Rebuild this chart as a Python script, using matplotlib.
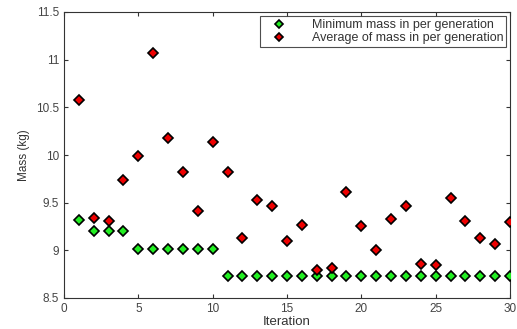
import matplotlib
matplotlib.use("Agg")
import matplotlib.pyplot as plt

plt.rcParams['font.family'] = ['Liberation Sans', 'DejaVu Sans']

iteration = list(range(1, 31))
min_mass = [9.32, 9.20, 9.20, 9.20, 9.01, 9.01, 9.01, 9.01, 9.01, 9.01,
            8.73, 8.73, 8.73, 8.73, 8.73, 8.73, 8.73, 8.73, 8.73, 8.73,
            8.73, 8.73, 8.73, 8.73, 8.73, 8.73, 8.73, 8.73, 8.73, 8.73]
avg_mass = [10.58, 9.34, 9.31, 9.74, 9.99, 11.07, 10.18, 9.82, 9.41, 10.14,
            9.82, 9.13, 9.53, 9.47, 9.10, 9.27, 8.79, 8.81, 9.61, 9.26,
            9.00, 9.33, 9.46, 8.86, 8.85, 9.55, 9.31, 9.13, 9.07, 9.30]

fig = plt.figure(figsize=(5.17, 3.29), dpi=100)
ax = fig.add_axes([64/517, 1 - 298/329, 446/517, 286/329])

ax.plot(iteration, min_mass, 'D', color='#22ee22', markeredgecolor='black',
        markeredgewidth=1.2, markersize=5.5, label='Minimum mass in per generation', zorder=3)
ax.plot(iteration, avg_mass, 'D', color='#ee0000', markeredgecolor='black',
        markeredgewidth=1.2, markersize=5.5, label='Average of mass in per generation', zorder=3)

ax.set_xlim(0, 30)
ax.set_ylim(8.5, 11.5)
ax.set_xticks([0, 5, 10, 15, 20, 25, 30])
ax.set_yticks([8.5, 9, 9.5, 10, 10.5, 11, 11.5])
ax.set_yticklabels(['8.5', '9', '9.5', '10', '10.5', '11', '11.5'])
ax.tick_params(direction='in', top=True, right=True, labelsize=8.5, length=3,
               colors='#333333', labelcolor='#444444')
for s in ax.spines.values():
    s.set_color('#333333')
ax.set_xlabel('Iteration', fontsize=9.5, color='#333333', labelpad=1)
ax.set_ylabel('Mass (kg)', fontsize=8.5, color='#333333', labelpad=4)

leg = ax.legend(loc='upper right', fontsize=9, frameon=True, fancybox=False,
                edgecolor='#222222', borderpad=0.2, handletextpad=1.3,
                handlelength=2.6, labelspacing=0.1, borderaxespad=0.35,
                markerscale=0.8)
leg.get_frame().set_linewidth(0.8)
for t in leg.get_texts():
    t.set_color('#333333')

fig.savefig('out.png', dpi=100)
